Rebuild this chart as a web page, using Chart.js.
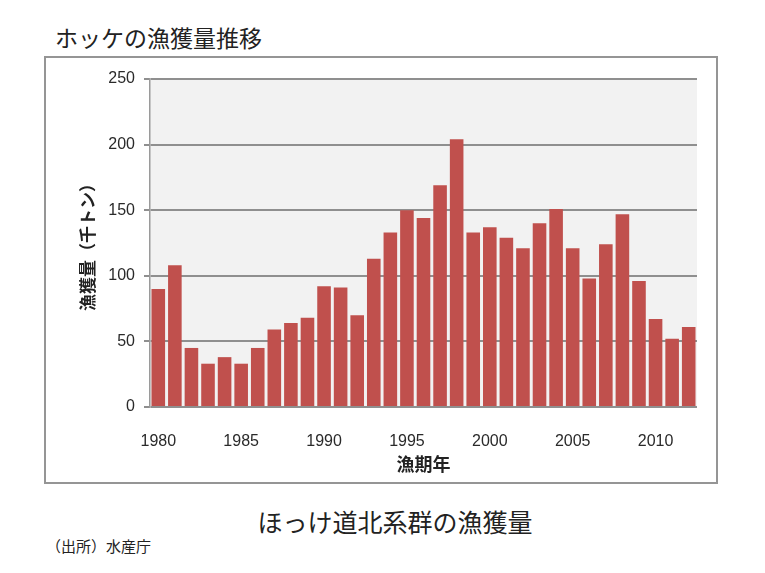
<!DOCTYPE html>
<html lang="ja">
<head>
<meta charset="utf-8">
<script src="https://cdn.jsdelivr.net/npm/chart.js@4/dist/chart.umd.min.js"></script>
<style>
  body { margin: 0; width: 765px; height: 573px; background: #fff; position: relative; overflow: hidden;
         font-family: "Noto Sans CJK JP", sans-serif; color: #222; }
  .title { position: absolute; left: 55px; top: 26px; font-size: 23px; line-height: 1; }
  .box { position: absolute; left: 44px; top: 56px; width: 674px; height: 428px;
         border: 2px solid #959595; box-sizing: border-box; }
  .box canvas { display: block; }
  .caption { position: absolute; left: 0; width: 790px; text-align: center; top: 509px; font-size: 25px; line-height: 1; }
  .source { position: absolute; left: 46px; top: 538px; font-size: 15px; line-height: 1; }
</style>
</head>
<body>
<div class="title">ホッケの漁獲量推移</div>
<div class="box"><canvas id="chart" width="670" height="424"></canvas></div>
<div class="caption">ほっけ道北系群の漁獲量</div>
<div class="source">（出所）水産庁</div>
<script>
// 漁期年と漁獲量（千トン）
const years = [1980, 1981, 1982, 1983, 1984, 1985, 1986, 1987, 1988, 1989,
               1990, 1991, 1992, 1993, 1994, 1995, 1996, 1997, 1998, 1999,
               2000, 2001, 2002, 2003, 2004, 2005, 2006, 2007, 2008, 2009,
               2010, 2011, 2012];
const catchValues = [90, 108, 45, 33, 38, 33, 45, 59, 64, 68,
                     92, 91, 70, 113, 133, 150, 144, 169, 204, 133,
                     137, 129, 121, 140, 151, 121, 98, 124, 147, 96,
                     67, 52, 61];
const yTicks = [0, 50, 100, 150, 200, 250];

// プロット領域の背景
const plotBg = {
    id: "plotBg",
    beforeDraw(chart) {
        const { ctx, chartArea: a } = chart;
        ctx.save();
        ctx.fillStyle = "#f2f2f2";
        ctx.fillRect(a.left, a.top, a.right - a.left, a.bottom - a.top);
        ctx.restore();
    },
};

Chart.defaults.font.family = "'Liberation Sans', 'Noto Sans CJK JP', sans-serif";
Chart.defaults.color = "#2a2a2a";

new Chart(document.getElementById("chart").getContext("2d"), {
    type: "bar",
    data: {
        labels: years.map(String),
        datasets: [{
            label: "漁獲量",
            data: catchValues,
            backgroundColor: "#c0504d",
            borderWidth: 0,
            categoryPercentage: 1,
            barPercentage: 0.82,
        }],
    },
    options: {
        responsive: false,
        animation: false,
        layout: { padding: { top: 21, right: 19, left: 0, bottom: 0 } },
        plugins: { legend: { display: false }, tooltip: { enabled: false } },
        scales: {
            x: {
                grid: { display: false },
                border: { display: false },
                ticks: {
                    autoSkip: false,
                    maxRotation: 0,
                    padding: 17,
                    font: { size: 16 },
                    callback: (v, i) => (years[i] % 5 === 0 ? String(years[i]) : ""),
                },
                title: {
                    display: true,
                    text: "漁期年",
                    font: { size: 18, weight: "bold", family: "'Noto Sans CJK JP'" },
                    color: "#222",
                    padding: { top: 7, bottom: 7 },
                },
                afterFit: (s) => { s.height = 75; },
            },
            y: {
                min: 0,
                max: 250,
                afterBuildTicks: (s) => { s.ticks = yTicks.map((v) => ({ value: v })); },
                grid: { color: "#8f8f8f", lineWidth: 2, tickLength: 6 },
                border: { color: "#9a9a9a", width: 1.5 },
                ticks: { padding: 9, font: { size: 16 } },
                title: {
                    display: true,
                    text: "漁獲量（千トン）",
                    font: { size: 17, weight: "bold", family: "'Noto Sans CJK JP'" },
                    color: "#222",
                    padding: { top: 31, bottom: 31 },
                },
                afterFit: (s) => { s.width = 104; },
            },
        },
    },
    plugins: [plotBg],
});
</script>
</body>
</html>
